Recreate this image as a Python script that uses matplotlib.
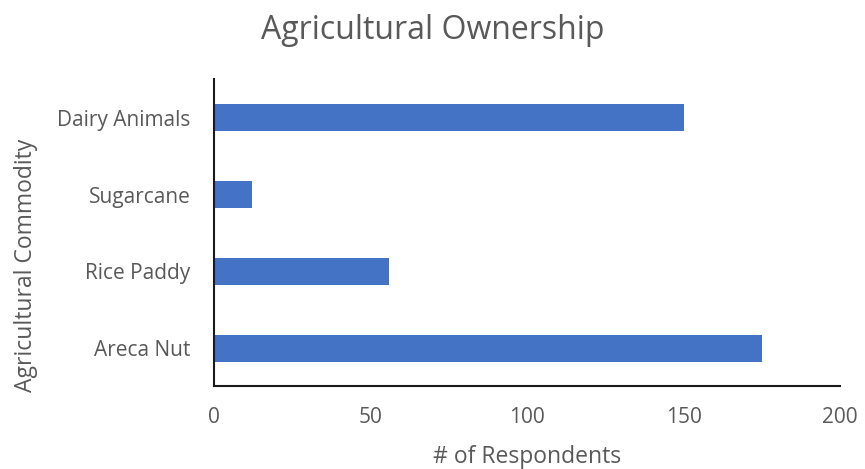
import matplotlib
matplotlib.use("Agg")
import matplotlib.pyplot as plt

# Data
commodities = ["Areca Nut", "Rice Paddy", "Sugarcane", "Dairy Animals"]
respondents = [175, 56, 12, 150]
x_ticks = [0, 50, 100, 150, 200]

plt.rcParams['font.family'] = ['Open Sans', 'DejaVu Sans']
text_color = '#595959'

fig = plt.figure(figsize=(8.65, 4.69), dpi=100)
ax = fig.add_axes([0.2474, 0.176, 0.7237, 0.6545])

ax.barh(commodities, respondents, height=0.35, color='#4472C4')

ax.set_xlim(0, 200)
ax.set_ylim(-0.5, len(commodities) - 0.5)
ax.set_xticks(x_ticks)
ax.tick_params(axis='both', length=0, labelsize=15, colors=text_color)
ax.tick_params(axis='y', pad=17)
ax.tick_params(axis='x', pad=15)

for side in ['top', 'right']:
    ax.spines[side].set_visible(False)
for side in ['left', 'bottom']:
    ax.spines[side].set_color('#1a1a1a')
    ax.spines[side].set_linewidth(1.5)

ax.set_xlabel('# of Respondents', fontsize=16.5, color=text_color)
ax.set_ylabel('Agricultural Commodity', fontsize=16.5, color=text_color)
ax.xaxis.set_label_coords(0.5, -0.19)
ax.yaxis.set_label_coords(-0.281, 0.395)
fig.suptitle('Agricultural Ownership', fontsize=23, color=text_color, y=0.97)

fig.savefig('out.png', dpi=100)
